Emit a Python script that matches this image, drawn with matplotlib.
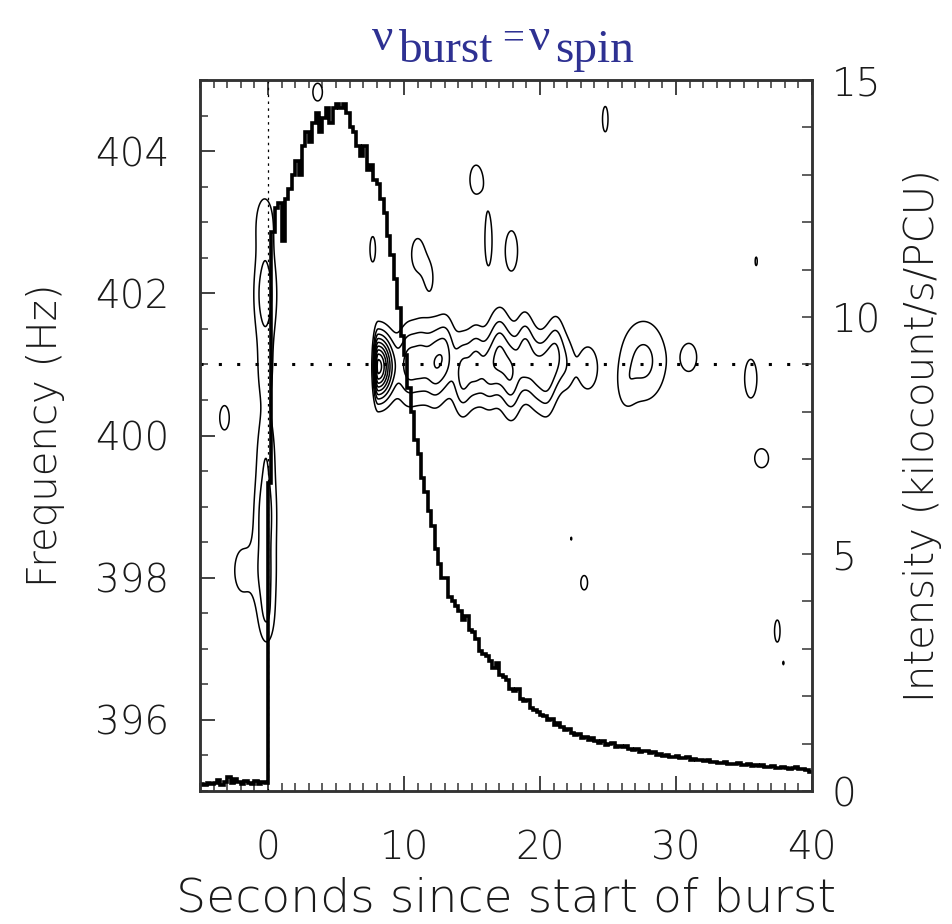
import numpy as np
import matplotlib
matplotlib.use('Agg')
import matplotlib.pyplot as plt

#Light curve, 0.25 s bins from -5 to 40 s (kilocount/s/PCU)
lc_start = -5.0
lc_bin = 0.25
lc_rate = [
    0.15, 0.12, 0.18, 0.14, 0.16, 0.24, 0.13, 0.20,   # -5 .. -3
    0.30, 0.17, 0.26, 0.19, 0.14, 0.22, 0.18, 0.15,   # -3 .. -1
    0.21, 0.15, 0.19, 0.17,                           # -1 .. 0
    6.5, 11.8, 12.3, 12.4, 11.6, 12.5, 12.7, 13.0,    # 0 .. 2
    13.3, 13.0, 13.6, 13.9, 13.7, 14.1, 14.3, 13.9,   # 2 .. 4
    14.2, 14.4, 14.1, 14.4, 14.5, 14.4, 14.5, 14.3,   # 4 .. 6
    14.0, 13.9, 13.6, 13.4, 13.6, 13.1, 13.2, 12.9,   # 6 .. 8
    12.8, 12.5, 12.2, 11.7, 11.3, 10.8, 10.2, 9.6,    # 8 .. 10
    9.2, 8.5, 8.0, 7.4, 7.1, 6.6, 6.3, 5.9,           # 10 .. 12
    5.6, 5.1, 4.8, 4.5, 4.5, 4.1, 4.0, 3.9,           # 12 .. 14
    3.8, 3.6, 3.7, 3.4, 3.35, 3.2, 2.95, 2.9,         # 14 .. 16
    2.85, 2.75, 2.6, 2.7, 2.45, 2.4, 2.35, 2.15,      # 16 .. 18
    2.1, 2.15, 1.95, 1.9, 1.92, 1.75, 1.7, 1.66,      # 18 .. 20
    1.6, 1.58, 1.5, 1.52, 1.4, 1.43, 1.36, 1.29,      # 20 .. 22
    1.31, 1.22, 1.19, 1.21, 1.12, 1.15, 1.08, 1.11,   # 22 .. 24
    1.05, 1.02, 1.06, 0.97, 0.99, 1.01, 0.93, 0.95,   # 24 .. 26
    0.92, 0.94, 0.88, 0.86, 0.89, 0.83, 0.85, 0.84,   # 26 .. 28
    0.80, 0.82, 0.77, 0.78, 0.74, 0.77, 0.72, 0.71,   # 28 .. 30
    0.73, 0.70, 0.69, 0.71, 0.66, 0.68, 0.65, 0.66,   # 30 .. 32
    0.63, 0.65, 0.61, 0.62, 0.60, 0.59, 0.61, 0.57,   # 32 .. 34
    0.58, 0.56, 0.59, 0.55, 0.54, 0.56, 0.53, 0.55,   # 34 .. 36
    0.52, 0.54, 0.51, 0.50, 0.53, 0.49, 0.48, 0.50,   # 36 .. 38
    0.49, 0.47, 0.48, 0.50, 0.46, 0.47, 0.44, 0.41,   # 38 .. 40
]

#Power features
#centre time (s), centre freq (Hz), time width left/right (s), freq width (Hz), peak (contour units)
blob_t  = [-0.25, -0.2, -0.2, -0.15, -0.2, -0.2, -0.1,
           8.1, 10.3, 11.3, 12.3, 13.1, 14.3, 15.3, 16.2, 17.0, 17.9, 18.9, 19.7, 20.5, 21.2, 22.0, 23.5,
           27.6, 26.3, 31.0, 35.5,
           3.65, 15.3, 16.2, 17.9, 11.0, 11.9, 7.7, 24.8, 35.9, 36.3, 23.25, 22.3, 37.45, 37.9,
           -3.2, -1.9]
blob_f  = [403.0, 402.0, 400.9, 399.8, 398.9, 398.0, 397.4,
           400.97, 401.0, 401.05, 401.0, 401.15, 400.85, 401.0, 400.9, 401.15, 400.85, 401.15, 400.9,
           400.85, 401.15, 401.0, 400.95,
           401.05, 400.65, 401.1, 400.8,
           404.83, 403.6, 402.75, 402.6, 402.55, 402.2, 402.62, 404.45, 402.45, 399.68, 397.93, 398.55, 397.25, 396.8,
           400.25, 398.1]
blob_sl = [0.6, 0.6, 0.6, 0.55, 0.6, 0.6, 0.45,
           0.22, 0.55, 0.5, 0.5, 0.45, 0.5, 0.45, 0.45, 0.5, 0.5, 0.45, 0.45, 0.45, 0.45, 0.4, 0.7,
           1.28, 0.5, 0.65, 0.58,
           0.45, 0.58, 0.32, 0.58, 0.6, 0.4, 0.26, 0.26, 0.13, 0.65, 0.32, 0.1, 0.26, 0.1,
           0.45, 0.7]
blob_sr = [0.6, 0.6, 0.6, 0.55, 0.6, 0.6, 0.45,
           0.75, 0.55, 0.5, 0.5, 0.45, 0.5, 0.45, 0.45, 0.5, 0.5, 0.45, 0.45, 0.45, 0.45, 0.4, 0.7,
           1.28, 0.5, 0.65, 0.58,
           0.45, 0.58, 0.32, 0.58, 0.6, 0.4, 0.26, 0.26, 0.13, 0.65, 0.32, 0.1, 0.26, 0.1,
           0.45, 0.7]
blob_sf = [0.35, 0.45, 0.45, 0.4, 0.45, 0.4, 0.3,
           0.3, 0.38, 0.38, 0.38, 0.36, 0.38, 0.36, 0.36, 0.4, 0.4, 0.38, 0.36, 0.38, 0.36, 0.3, 0.3,
           0.43, 0.25, 0.23, 0.35,
           0.16, 0.26, 0.45, 0.36, 0.3, 0.25, 0.23, 0.23, 0.1, 0.17, 0.13, 0.05, 0.2, 0.05,
           0.22, 0.36]
blob_amp = [1.5, 2.6, 1.3, 1.5, 2.4, 2.0, 1.4,
            9.5, 3.0, 2.6, 3.2, 2.6, 3.2, 2.8, 2.4, 3.4, 3.4, 3.0, 2.4, 2.8, 2.6, 1.3, 1.6,
            2.3, 0.8, 1.35, 1.35,
            1.35, 1.35, 1.35, 1.35, 1.3, 1.0, 1.35, 1.35, 1.2, 1.35, 1.35, 1.1, 1.35, 1.1,
            1.35, 1.35]

spin_freq = 401.0
contour_levels = [1, 2, 3, 4, 5, 6, 7, 8, 9]

txt = '#1a1a1a'
plt.rcParams['font.family'] = ['DejaVu Sans']
plt.rcParams['font.weight'] = 'light'
plt.rcParams['axes.labelweight'] = 'light'

fig = plt.figure(figsize=(9.52, 9.24), dpi=100)
ax = fig.add_axes([0.2101, 0.1439, 0.6428, 0.7695])

#Dynamic power spectrum contours
t_grid = np.arange(-5, 40.001, 0.05)
f_grid = np.arange(395, 405.001, 0.02)
T, F = np.meshgrid(t_grid, f_grid)
power = np.zeros_like(T)
for t0, f0, sl, sr, sf, a in zip(blob_t, blob_f, blob_sl, blob_sr, blob_sf, blob_amp):
    st = np.where(T < t0, sl, sr)
    power += a*np.exp(-0.5*((T-t0)/st)**2 - 0.5*((F-f0)/sf)**2)
ax.contour(T, F, power, levels=contour_levels, colors='k', linewidths=1.1)

ax.axhline(spin_freq, color='k', lw=2.2, ls=(0, (1, 5)))
ax.axvline(0, color='k', lw=0.9, ls=(0, (2, 3.5)))

ax.set_xlim(-5, 40)
ax.set_ylim(395, 405)
ax.set_xticks([0, 10, 20, 30, 40])
ax.set_xticks(np.arange(-5, 41, 1), minor=True)
ax.set_yticks([396, 398, 400, 402, 404])
ax.set_yticks(np.arange(395, 405.01, 0.5), minor=True)
ax.tick_params(which='both', direction='in', top=True, right=False, colors='#333333',
               labelcolor=txt, labelsize=28)
ax.tick_params(which='major', length=11, width=1.3)
ax.tick_params(which='minor', length=6, width=1.1)
ax.tick_params(axis='x', pad=28)
ax.tick_params(axis='y', pad=22)
ax.set_xlabel('Seconds since start of burst', fontsize=34, color=txt, labelpad=6)
ax.set_ylabel('Frequency (Hz)', fontsize=29, color=txt, labelpad=22)

#Light curve on the intensity axis
ax2 = ax.twinx()
edges = lc_start + lc_bin*np.arange(len(lc_rate)+1)
ax2.stairs(lc_rate, edges, baseline=None, color='k', lw=2.6)
ax2.set_ylim(0, 15)
ax2.set_yticks([0, 5, 10, 15])
ax2.set_yticks(np.arange(0, 15.1, 1), minor=True)
ax2.tick_params(which='both', direction='in', length=7, width=1.1, colors='#333333',
                labelcolor=txt, labelsize=28, pad=14)
ax2.set_ylabel('Intensity (kilocount/s/PCU)', fontsize=29, color=txt, labelpad=16)

for a in (ax, ax2):
    for s in a.spines.values():
        s.set_linewidth(1.8)
        s.set_color('#333333')

#Title  nu_burst = nu_spin
blue = '#2e3192'
tfont = dict(family='Liberation Serif', fontsize=34, color=blue, va='baseline', ha='left')
fig.text(372/952, 1-50/924, '\u03bd', **tfont)
fig.text(398/952, 1-62/924, 'burst', **tfont)
fig.text(502/952, 1-49/924, '=', **dict(tfont, fontsize=28))
fig.text(529/952, 1-50/924, '\u03bd', **tfont)
fig.text(555/952, 1-62/924, 'spin', **tfont)

fig.savefig('out.png', dpi=100)
